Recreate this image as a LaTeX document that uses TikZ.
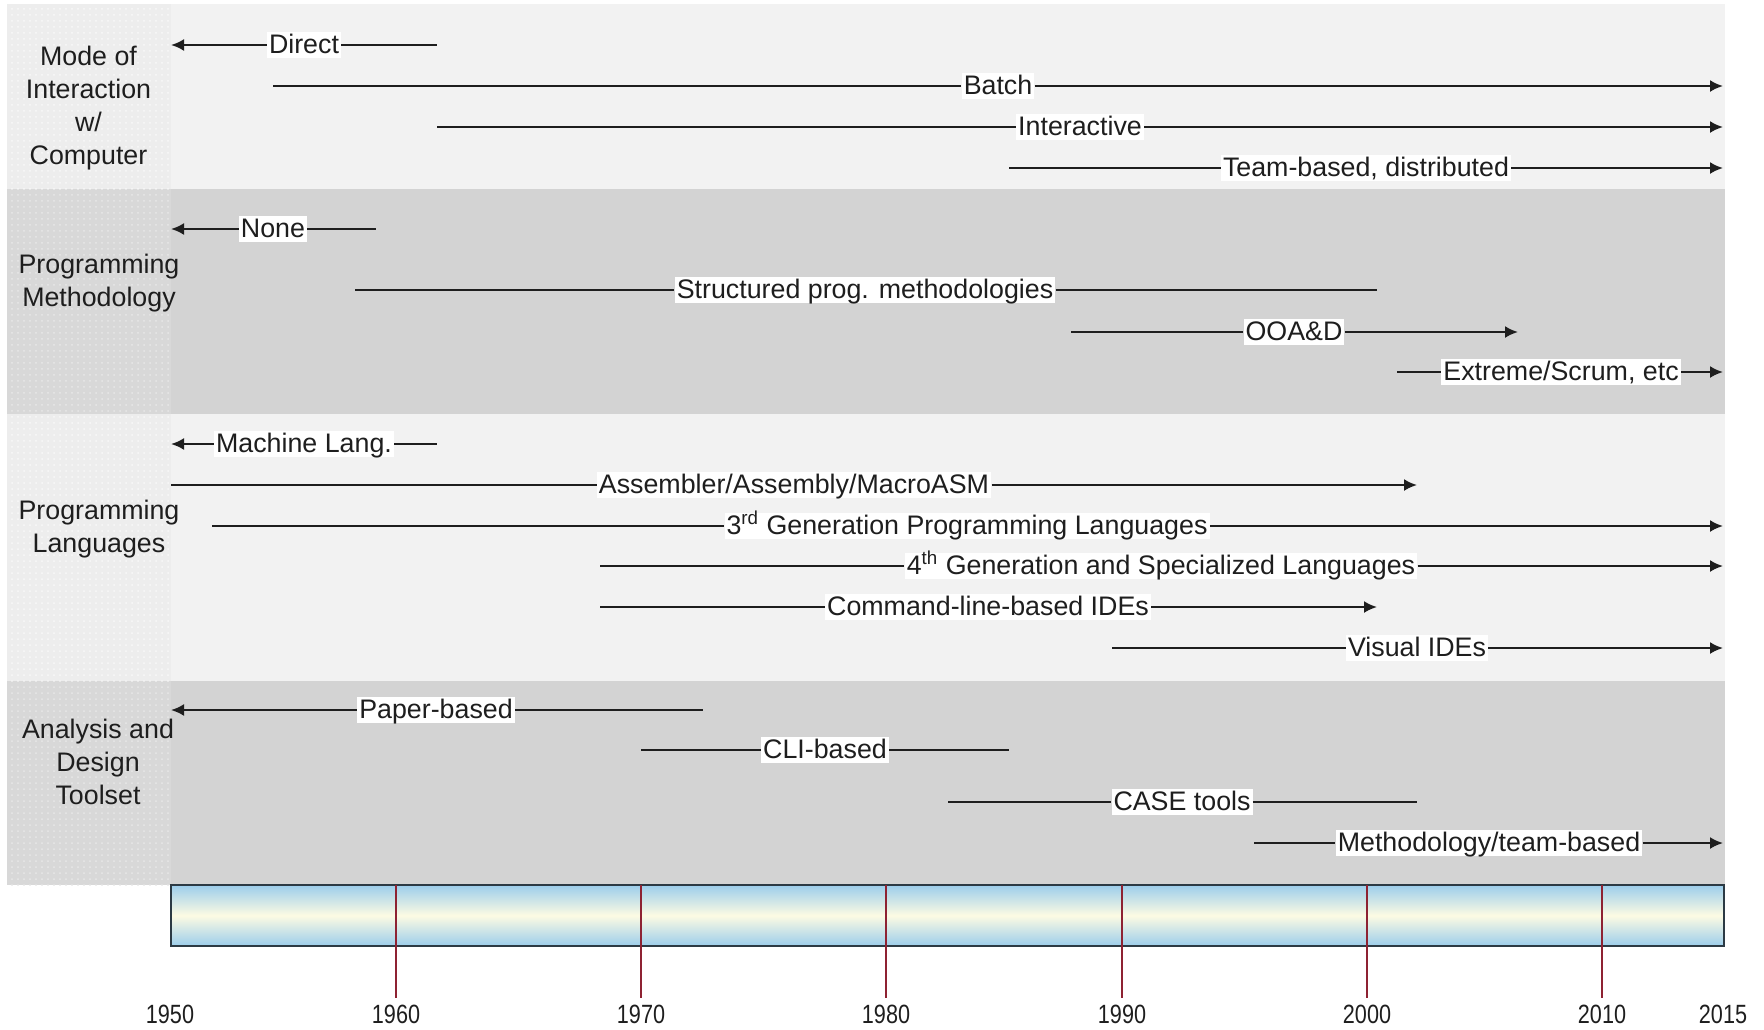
\documentclass[tikz,border=0pt]{standalone}
\usepackage{fontspec}
\setmainfont{Liberation Sans}
\usetikzlibrary{arrows.meta,patterns}

\definecolor{bandlight}{HTML}{F2F2F2}
\definecolor{banddark}{HTML}{D3D3D3}
\definecolor{celllight}{HTML}{EDEDED}
\definecolor{celldark}{HTML}{D8D8D8}
\definecolor{inkgray}{HTML}{1E1E1E}
\definecolor{barblue}{HTML}{9CCDEB}
\definecolor{barcream}{HTML}{FDFBE3}
\definecolor{barborder}{HTML}{2C3A44}
\definecolor{tickred}{HTML}{8E2232}

\begin{document}
\begin{tikzpicture}[x=0.5pt,y=-0.5pt,
  evlabel/.style={fill=white, inner xsep=1pt, inner ysep=1pt,
    text height=1.8ex, text depth=0.2ex, text=inkgray,
    font=\fontsize{13.4}{16.5}\selectfont},
  catlabel/.style={align=center, text=inkgray, inner sep=0pt,
    font=\fontsize{13.4}{16.5}\selectfont},
  yearlabel/.style={anchor=base, text=inkgray, inner sep=0pt,
    font=\fontsize{13.2}{15}\selectfont},
  evline/.style={draw=inkgray, line width=1.1pt},
  evarrow/.style={evline, -{Latex[length=6.5pt,width=6pt]}},
  tick/.style={draw=tickred, line width=0.8pt}
]
\useasboundingbox (0,0) rectangle (1764,1029);

% ---------- bands ----------
\fill[bandlight] (171,4)   rectangle (1725,189);
\fill[banddark]  (171,189) rectangle (1725,414);
\fill[bandlight] (171,414) rectangle (1725,681);
\fill[banddark]  (171,681) rectangle (1725,885);

% category cells with a fine dotted texture
\fill[celllight] (7,4)   rectangle (171,189);
\fill[celldark]  (7,189) rectangle (171,414);
\fill[celllight] (7,414) rectangle (171,681);
\fill[celldark]  (7,681) rectangle (171,885);
\fill[pattern=dots, pattern color=white!60!celllight] (7,4)   rectangle (171,189);
\fill[pattern=dots, pattern color=white!40!celldark]  (7,189) rectangle (171,414);
\fill[pattern=dots, pattern color=white!60!celllight] (7,414) rectangle (171,681);
\fill[pattern=dots, pattern color=white!40!celldark]  (7,681) rectangle (171,885);

\node[catlabel] (catMode) at (88.5,108) {Mode of\\Interaction\\w/\\Computer};
\node[catlabel] (catMeth) at (99,283) {Programming\\Methodology};
\node[catlabel] (catLang) at (99,529) {Programming\\Languages};
\node[catlabel] (catTool) at (98,762) {Analysis and\\Design\\Toolset};

% ---------- timeline bar ----------
\shade[top color=barblue, bottom color=barblue, middle color=barcream]
  (171,885) rectangle (1724,946);
\draw[barborder, line width=1pt] (171,885) rectangle (1724,946);

\draw[tick] (396,885)  -- (396,998);
\draw[tick] (641,885)  -- (641,998);
\draw[tick] (886,885)  -- (886,998);
\draw[tick] (1122,885) -- (1122,998);
\draw[tick] (1367,885) -- (1367,998);
\draw[tick] (1602,885) -- (1602,998);

\node[yearlabel] (y1950) at (170,1023)  {\scalebox{0.82}[1]{1950}};
\node[yearlabel] (y1960) at (396,1023)  {\scalebox{0.82}[1]{1960}};
\node[yearlabel] (y1970) at (641,1023)  {\scalebox{0.82}[1]{1970}};
\node[yearlabel] (y1980) at (886,1023)  {\scalebox{0.82}[1]{1980}};
\node[yearlabel] (y1990) at (1122,1023) {\scalebox{0.82}[1]{1990}};
\node[yearlabel] (y2000) at (1367,1023) {\scalebox{0.82}[1]{2000}};
\node[yearlabel] (y2010) at (1602,1023) {\scalebox{0.82}[1]{2010}};
\node[yearlabel] (y2015) at (1723,1023) {\scalebox{0.82}[1]{2015}};

% ---------- mode of interaction ----------
\coordinate (dirS) at (171,45);  \coordinate (dirE) at (437,45);
\node[evlabel] (dir) at (304,45) {Direct};
\draw[evarrow] (dir) -- (dirS);  \draw[evline] (dir) -- (dirE);

\coordinate (batS) at (273,86);  \coordinate (batE) at (1723,86);
\node[evlabel] (bat) at (998,86) {Batch};
\draw[evline] (batS) -- (bat);   \draw[evarrow] (bat) -- (batE);

\coordinate (intS) at (437,127); \coordinate (intE) at (1723,127);
\node[evlabel] (int) at (1080,127) {Interactive};
\draw[evline] (intS) -- (int);   \draw[evarrow] (int) -- (intE);

\coordinate (teamS) at (1009,168); \coordinate (teamE) at (1723,168);
\node[evlabel] (team) at (1366,168) {Team-based, distributed};
\draw[evline] (teamS) -- (team); \draw[evarrow] (team) -- (teamE);

% ---------- programming methodology ----------
\coordinate (nonS) at (171,229); \coordinate (nonE) at (376,229);
\node[evlabel] (non) at (273,229) {None};
\draw[evarrow] (non) -- (nonS);  \draw[evline] (non) -- (nonE);

\coordinate (strS) at (355,290); \coordinate (strE) at (1377,290);
\node[evlabel] (str) at (865,290) {Structured prog. methodologies};
\draw[evline] (strS) -- (str);   \draw[evline] (str) -- (strE);

\coordinate (ooaS) at (1071,332); \coordinate (ooaE) at (1518,332);
\node[evlabel] (ooa) at (1294,332) {OOA\&D};
\draw[evline] (ooaS) -- (ooa);   \draw[evarrow] (ooa) -- (ooaE);

\coordinate (xpS) at (1397,372); \coordinate (xpE) at (1723,372);
\node[evlabel] (xp) at (1561,372) {Extreme/Scrum, etc};
\draw[evline] (xpS) -- (xp);     \draw[evarrow] (xp) -- (xpE);

% ---------- programming languages ----------
\coordinate (macS) at (171,444); \coordinate (macE) at (437,444);
\node[evlabel] (mac) at (304,444) {Machine Lang.};
\draw[evarrow] (mac) -- (macS);  \draw[evline] (mac) -- (macE);

\coordinate (asmS) at (171,485); \coordinate (asmE) at (1417,485);
\node[evlabel] (asm) at (794,485) {Assembler/Assembly/MacroASM};
\draw[evline] (asmS) -- (asm);   \draw[evarrow] (asm) -- (asmE);

\coordinate (thirdS) at (212,526); \coordinate (thirdE) at (1723,526);
\node[evlabel] (third) at (967,526) {3\textsuperscript{rd} Generation Programming Languages};
\draw[evline] (thirdS) -- (third); \draw[evarrow] (third) -- (thirdE);

\coordinate (fourthS) at (600,566); \coordinate (fourthE) at (1723,566);
\node[evlabel] (fourth) at (1161,566) {4\textsuperscript{th} Generation and Specialized Languages};
\draw[evline] (fourthS) -- (fourth); \draw[evarrow] (fourth) -- (fourthE);

\coordinate (cliS) at (600,607); \coordinate (cliE) at (1377,607);
\node[evlabel] (cli) at (988,607) {Command-line-based IDEs};
\draw[evline] (cliS) -- (cli);   \draw[evarrow] (cli) -- (cliE);

\coordinate (visS) at (1112,648); \coordinate (visE) at (1723,648);
\node[evlabel] (vis) at (1417,648) {Visual IDEs};
\draw[evline] (visS) -- (vis);   \draw[evarrow] (vis) -- (visE);

% ---------- analysis and design toolset ----------
\coordinate (papS) at (171,710); \coordinate (papE) at (703,710);
\node[evlabel] (pap) at (436,710) {Paper-based};
\draw[evarrow] (pap) -- (papS);  \draw[evline] (pap) -- (papE);

\coordinate (clbS) at (641,750); \coordinate (clbE) at (1009,750);
\node[evlabel] (clb) at (825,750) {CLI-based};
\draw[evline] (clbS) -- (clb);   \draw[evline] (clb) -- (clbE);

\coordinate (caseS) at (948,802); \coordinate (caseE) at (1417,802);
\node[evlabel] (case) at (1182,802) {CASE tools};
\draw[evline] (caseS) -- (case); \draw[evline] (case) -- (caseE);

\coordinate (mtbS) at (1254,843); \coordinate (mtbE) at (1723,843);
\node[evlabel] (mtb) at (1489,843) {Methodology/team-based};
\draw[evline] (mtbS) -- (mtb);   \draw[evarrow] (mtb) -- (mtbE);

\end{tikzpicture}
\end{document}
